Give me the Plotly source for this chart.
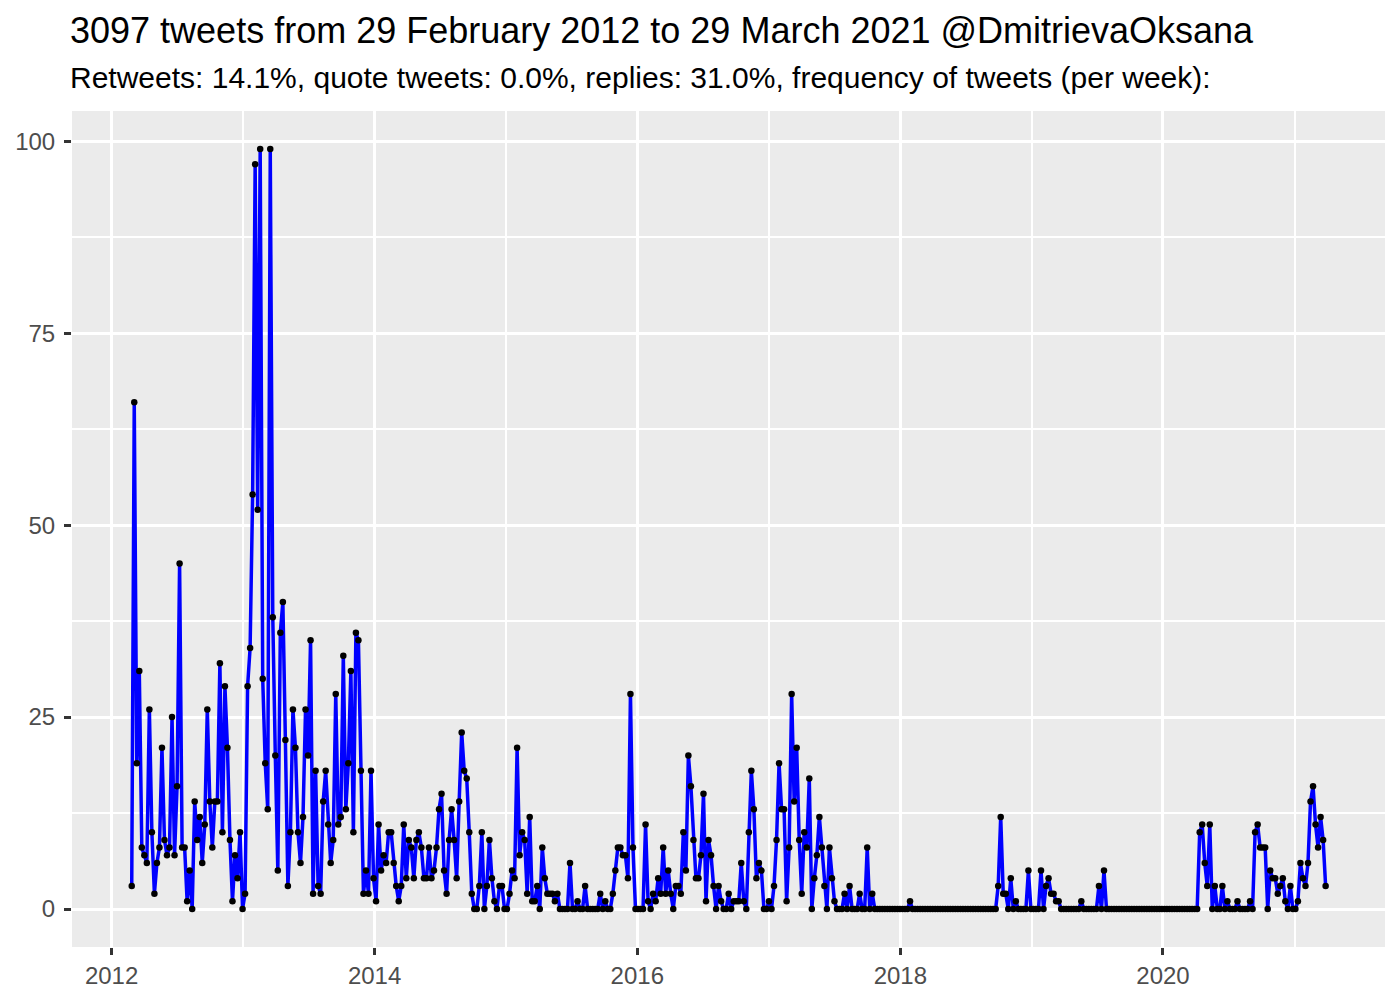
import pandas as pd
import plotly.graph_objects as go

# weekly tweet counts, one value per week starting Sunday 26 Feb 2012
week_start = "2012-02-26"
tweets_per_week = [
    3, 66, 19, 31, 8, 7, 6, 26, 10, 2, 6, 8, 21, 9, 7, 8, 25, 7, 16, 45,
    8, 8, 1, 5, 0, 14, 9, 12, 6, 11, 26, 14, 8, 14, 14, 32, 10, 29, 21, 9,
    1, 7, 4, 10, 0,
    2, 29, 34, 54, 97, 52, 99, 30, 19, 13, 99, 38, 20, 5, 36, 40, 22, 3, 10, 26,
    21, 10, 6, 12, 26, 20, 35, 2, 18, 3, 2, 14, 18, 11, 6, 9, 28, 11, 12, 33,
    13, 19, 31, 10, 36, 35, 18,
    2, 5, 2, 18, 4, 1, 11, 5, 7, 6, 10, 10, 6, 3, 1, 3, 11, 4, 9, 8,
    4, 9, 10, 8, 4, 4, 8, 4, 5, 8, 13, 15, 5, 2, 9, 13,
    9, 4, 14, 23, 18, 17, 10, 2, 0, 0, 3, 10, 0, 3, 9, 4, 1, 0, 3, 3,
    0, 0, 2, 5, 4, 21, 7, 10, 9, 2, 12, 1, 1, 3, 0, 8, 4, 2, 2, 2, 1,
    2, 0, 0, 0, 0, 6, 0, 0, 1, 0, 0, 3, 0, 0, 0, 0, 0, 2, 0, 1,
    0, 0, 2, 5, 8, 8, 7, 7, 4, 28, 8, 0, 0, 0, 0, 11, 1, 0, 2, 1, 4, 2, 8,
    2, 5, 2, 0, 3, 3, 2, 10, 5, 20, 16, 9, 4, 4, 7, 15, 1, 9, 7, 3,
    0, 3, 1, 0, 0, 2, 0, 1, 1, 1, 6, 1, 0, 10, 18, 13, 4, 6, 5, 0,
    0, 1, 0, 3, 9, 19, 13, 13, 1, 8, 28, 14, 21, 9, 2, 10, 8, 17, 0, 4,
    7, 12, 8, 3, 0, 8, 4, 1, 0, 0, 0, 2, 0, 3, 0, 0, 0, 2, 0, 0, 8, 0, 2,
    0, 0, 0, 0, 0, 0, 0, 0, 0, 0, 0, 0, 0, 0, 1, 0, 0, 0, 0, 0,
    0, 0, 0, 0, 0, 0, 0, 0, 0, 0, 0, 0, 0, 0, 0, 0, 0, 0, 0, 0,
    0, 0, 0, 0, 0, 0, 0, 0, 0,
    3, 12, 2, 2, 0, 4, 0, 1, 0, 0, 0, 0, 5, 0, 0, 0, 0, 5, 0, 3,
    4, 2, 2, 1, 1, 0, 0, 0, 0, 0, 0, 0, 0, 1, 0, 0, 0, 0, 0, 0, 3, 0, 5,
    0, 0, 0, 0, 0, 0, 0, 0, 0, 0, 0, 0, 0, 0, 0, 0, 0, 0, 0, 0,
    0, 0, 0, 0, 0, 0, 0, 0, 0, 0, 0, 0, 0, 0, 0, 0, 0,
    10, 11, 6, 3, 11, 0, 3, 0, 0, 3, 0, 1, 0, 0, 0, 1, 0, 0, 0, 0,
    1, 0, 10, 11, 8, 8, 8, 0, 5, 4, 4, 2, 3, 4, 1, 0, 3, 0, 0, 1,
    6, 4, 3, 6, 14, 16, 11, 8, 12, 9, 3,
]

x_ticks = ["2012-01-01", "2014-01-01", "2016-01-01", "2018-01-01", "2020-01-01"]
x_tick_labels = ["2012", "2014", "2016", "2018", "2020"]
x_minor = ["2013-01-01", "2015-01-01", "2017-01-01", "2019-01-01", "2021-01-01"]
y_ticks = [0, 25, 50, 75, 100]
y_minor = [12.5, 37.5, 62.5, 87.5]

title = "3097 tweets from 29 February 2012 to 29 March 2021 @DmitrievaOksana"
subtitle = ("Retweets: 14.1%, quote tweets: 0.0%, replies: 31.0%, "
            "frequency of tweets (per week):")

weeks = pd.date_range(week_start, periods=len(tweets_per_week), freq="7D")

font = "Liberation Sans, Arial, sans-serif"

fig = go.Figure()
fig.add_trace(go.Scatter(
    x=weeks,
    y=tweets_per_week,
    mode="lines+markers",
    line=dict(color="#0000FF", width=3.5),
    marker=dict(color="black", size=6.5),
    showlegend=False,
    hoverinfo="x+y",
))

axis_common = dict(
    showgrid=True,
    gridcolor="white",
    gridwidth=3,
    zeroline=False,
    showline=False,
    automargin=False,
    ticks="outside",
    ticklen=7,
    tickwidth=3,
    tickcolor="#333333",
    tickfont=dict(family=font, size=24, color="#4D4D4D"),
)

fig.update_xaxes(
    type="date",
    range=["2011-09-13", "2021-09-09"],
    tickmode="array",
    tickvals=x_ticks,
    ticktext=x_tick_labels,
    minor=dict(tickmode="array", tickvals=x_minor, showgrid=True,
               gridcolor="white", gridwidth=1.5, ticks=""),
    **axis_common,
)
fig.update_yaxes(
    range=[-4.95, 103.95],
    tickmode="array",
    tickvals=y_ticks,
    ticklabelstandoff=4,
    minor=dict(tickmode="array", tickvals=y_minor, showgrid=True,
               gridcolor="white", gridwidth=1.5, ticks=""),
    **axis_common,
)

# the page body adds an 8px offset, so margins are shifted to compensate
fig.update_layout(
    width=1400,
    height=1000,
    autosize=False,
    paper_bgcolor="white",
    plot_bgcolor="#EBEBEB",
    margin=dict(l=64, r=23, t=103, b=61),
    font=dict(family=font),
    annotations=[
        dict(text=title, xref="paper", yref="paper", x=-0.003, y=1.096,
             xanchor="left", yanchor="middle", showarrow=False,
             font=dict(family=font, size=36, color="black")),
        dict(text=subtitle, xref="paper", yref="paper", x=-0.003, y=1.040,
             xanchor="left", yanchor="middle", showarrow=False,
             font=dict(family=font, size=30, color="black")),
    ],
)

fig.write_html("out.html")
